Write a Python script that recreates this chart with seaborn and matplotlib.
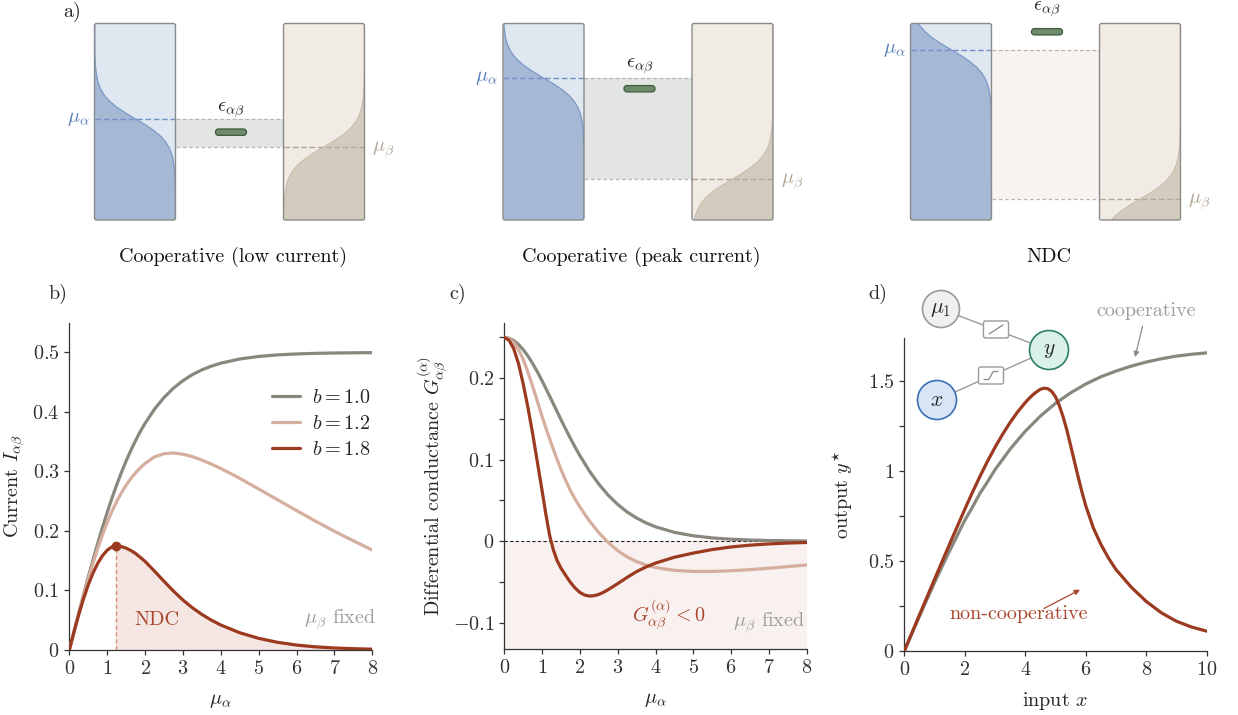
import numpy as np
import matplotlib
matplotlib.use('Agg')
import matplotlib.pyplot as plt
import seaborn as sns
from matplotlib.patches import FancyBboxPatch, Circle, Rectangle
from matplotlib.ticker import FuncFormatter

# ---------------- data ----------------
# panel b: current I_ab vs mu_alpha
mu_b10 = [0, 0.125, 0.25, 0.375, 0.5, 0.625, 0.75, 0.875, 1, 1.125, 1.25, 1.375, 1.5, 1.625,
          1.75, 1.875, 2, 2.25, 2.5, 2.75, 3, 3.25, 3.5, 3.75, 4, 4.5, 5, 5.5, 6, 6.5, 7, 7.5, 8]
I_b10 = [0, 0.0312, 0.0622, 0.0927, 0.1225, 0.1513, 0.1792, 0.2057, 0.2311, 0.2550, 0.2773,
         0.2982, 0.3176, 0.3355, 0.3520, 0.3672, 0.3808, 0.4048, 0.4242, 0.4400, 0.4526,
         0.4628, 0.4707, 0.4770, 0.4820, 0.4890, 0.4933, 0.4959, 0.4975, 0.4985, 0.4991,
         0.4994, 0.4997]
mu_b12 = [0, 0.125, 0.25, 0.375, 0.5, 0.625, 0.75, 0.875, 1, 1.125, 1.25, 1.375, 1.5, 1.625,
          1.75, 1.875, 2, 2.25, 2.5, 2.75, 3, 3.25, 3.5, 3.75, 4, 4.5, 5, 5.5, 6, 6.5, 7, 7.5, 8]
I_b12 = [0, 0.0311, 0.0614, 0.0908, 0.1190, 0.1457, 0.1706, 0.1935, 0.2142, 0.2328, 0.2494,
         0.2640, 0.2768, 0.2880, 0.2978, 0.3062, 0.3134, 0.3246, 0.3298, 0.3310, 0.3290,
         0.3250, 0.3192, 0.3124, 0.3050, 0.2885, 0.2705, 0.2525, 0.2343, 0.2165, 0.1995,
         0.1835, 0.1680]
mu_b18 = [0, 0.125, 0.25, 0.375, 0.5, 0.625, 0.75, 0.875, 1, 1.125, 1.22, 1.375, 1.5, 1.625,
          1.75, 2, 2.25, 2.5, 2.75, 3, 3.25, 3.5, 3.75, 4, 4.5, 5, 5.5, 6, 6.5, 7, 7.5, 8]
I_b18 = [0, 0.0307, 0.0596, 0.0860, 0.1093, 0.1292, 0.1456, 0.1584, 0.1677, 0.1733, 0.1750,
         0.1738, 0.1712, 0.1673, 0.1622, 0.1490, 0.1325, 0.1155, 0.0990, 0.0840, 0.0710,
         0.0598, 0.0502, 0.0420, 0.0290, 0.0196, 0.0129, 0.0083, 0.0053, 0.0034, 0.0022, 0.0014]
ndc_peak_mu = 1.22
ndc_peak_I = 0.175

# panel c: differential conductance vs mu_alpha
mu_c10 = [0, 0.125, 0.25, 0.375, 0.5, 0.625, 0.75, 0.875, 1, 1.125, 1.25, 1.375, 1.5, 1.625,
          1.75, 1.875, 2, 2.25, 2.5, 2.75, 3, 3.25, 3.5, 3.75, 4, 4.5, 5, 5.5, 6, 6.5, 7, 7.5, 8]
G_b10 = [0.25, 0.2490, 0.2461, 0.2414, 0.2350, 0.2271, 0.2179, 0.2077, 0.1966, 0.1850, 0.1731,
         0.1611, 0.1491, 0.1374, 0.1261, 0.1152, 0.1050, 0.0862, 0.0701, 0.0564, 0.0452,
         0.0358, 0.0285, 0.0225, 0.0177, 0.0109, 0.0067, 0.0041, 0.0025, 0.0015, 0.0009,
         0.0006, 0.0003]
mu_c12 = [0, 0.125, 0.25, 0.375, 0.5, 0.625, 0.75, 0.875, 1, 1.125, 1.25, 1.375, 1.5, 1.625,
          1.75, 1.875, 2, 2.25, 2.5, 2.75, 3, 3.25, 3.5, 3.75, 4, 4.5, 5, 5.5, 6, 6.5, 7, 7.5, 8]
G_b12 = [0.25, 0.2485, 0.2435, 0.2350, 0.2230, 0.2075, 0.1900, 0.1715, 0.1530, 0.1355, 0.1190,
         0.1030, 0.0880, 0.0745, 0.0620, 0.0515, 0.0420, 0.0250, 0.0105, -0.0015, -0.0115,
         -0.0192, -0.0250, -0.0292, -0.0322, -0.0357, -0.0370, -0.0370, -0.0362, -0.0348,
         -0.0331, -0.0311, -0.0290]
mu_c18 = [0, 0.125, 0.25, 0.375, 0.5, 0.625, 0.75, 0.875, 1, 1.1, 1.2, 1.3, 1.4, 1.5, 1.625,
          1.75, 1.875, 2, 2.125, 2.25, 2.375, 2.5, 2.625, 2.75, 3, 3.25, 3.5, 3.75, 4, 4.5, 5,
          5.5, 6, 6.5, 7, 7.5, 8]
G_b18 = [0.25, 0.2465, 0.2360, 0.2180, 0.1930, 0.1640, 0.1320, 0.0970, 0.0620, 0.0330, 0.0070,
         -0.0110, -0.0240, -0.0330, -0.0420, -0.0505, -0.0575, -0.0628, -0.0660, -0.0672,
         -0.0668, -0.0652, -0.0626, -0.0593, -0.0520, -0.0443, -0.0372, -0.0315, -0.0268,
         -0.0196, -0.0145, -0.0102, -0.0070, -0.0048, -0.0033, -0.0022, -0.0015]

# panel d: output y* vs input x
x_d = [0, 0.25, 0.5, 0.75, 1, 1.25, 1.5, 1.75, 2, 2.25, 2.5, 2.75, 3, 3.25, 3.5, 3.75, 4,
       4.5, 5, 5.5, 6, 6.5, 7, 7.5, 8, 8.5, 9, 9.5, 10]
y_coop = [0, 0.0963, 0.192, 0.2861, 0.379, 0.4689, 0.556, 0.6404, 0.725, 0.797, 0.874, 0.938,
          1.006, 1.0626, 1.120, 1.1696, 1.219, 1.303, 1.374, 1.432, 1.481, 1.521, 1.553,
          1.580, 1.603, 1.621, 1.636, 1.646, 1.654]
x_dn = [0, 0.5, 1, 1.5, 2, 2.25, 2.5, 2.75, 3, 3.25, 3.5, 3.75, 4, 4.125, 4.25, 4.375, 4.5,
        4.625, 4.75, 4.875, 5, 5.125, 5.25, 5.375, 5.5, 5.625, 5.75, 5.875, 6, 6.25, 6.5,
        6.75, 7, 7.5, 8, 8.5, 9, 9.5, 10]
y_noncoop = [0, 0.200, 0.398, 0.594, 0.786, 0.879, 0.968, 1.052, 1.130, 1.202, 1.268, 1.327,
             1.378, 1.401, 1.421, 1.438, 1.452, 1.458, 1.455, 1.440, 1.410, 1.362, 1.300,
             1.226, 1.140, 1.052, 0.965, 0.882, 0.806, 0.683, 0.592, 0.516, 0.452, 0.355,
             0.275, 0.212, 0.165, 0.133, 0.110]

# panel a: schematic energy levels (fraction of reservoir height)
scen_titles = ['Cooperative (low current)', 'Cooperative (peak current)', 'NDC']
scen_mu_a = [0.516, 0.723, 0.867]
scen_mu_b = [0.372, 0.208, 0.106]
scen_eps = [0.447, 0.668, 0.958]
scen_band = ['#e3e5e3', '#e3e5e3', '#f8f3f0']
# Fermi occupation profile, offsets in units of kT
fermi_t = [-6, -5.5, -5, -4.5, -4, -3.5, -3, -2.5, -2, -1.5, -1, -0.5, 0,
           0.5, 1, 1.5, 2, 2.5, 3, 3.5, 4, 4.5, 5, 5.5, 6]
fermi_f = [0.9975, 0.9959, 0.9933, 0.989, 0.982, 0.9707, 0.9526, 0.9241, 0.8808, 0.8176,
           0.7311, 0.6225, 0.5, 0.3775, 0.2689, 0.1824, 0.1192, 0.0759, 0.0474, 0.0293,
           0.018, 0.011, 0.0067, 0.0041, 0.0025]

# ---------------- style ----------------
FS = 14.5
sns.set_theme(style='ticks')
plt.rcParams.update({
    'font.family': 'serif',
    'font.serif': ['cmr10'],
    'mathtext.fontset': 'cm',
    'axes.formatter.use_mathtext': True,
    'axes.unicode_minus': True,
    'font.size': FS,
    'axes.labelsize': FS,
    'axes.edgecolor': '#333333',
    'axes.linewidth': 0.9,
    'xtick.color': '#333333',
    'ytick.color': '#333333',
    'xtick.major.size': 3.5,
    'ytick.major.size': 3.5,
    'ytick.minor.size': 3.5,
    'xtick.major.width': 0.9,
    'ytick.major.width': 0.9,
    'ytick.minor.width': 0.9,
})

C_GRAY = '#88887f'
C_PINK = '#d6ae9f'
C_RED = '#9c3a20'
C_TXT_RED = '#a9452c'
C_TXT_GRAY = '#9d9d9d'
LW = 2.3

W_PX, H_PX = 1238, 715
fig = plt.figure(figsize=(W_PX / 100, H_PX / 100), dpi=100)


def px_rect(left, top, right, bottom):
    return [left / W_PX, 1 - bottom / H_PX, (right - left) / W_PX, (bottom - top) / H_PX]


def num_fmt(v, pos):
    if abs(v) < 1e-9:
        return '$0$'
    return '$%g$' % round(v, 4)


ax_b = fig.add_axes(px_rect(69.3, 322.7, 372.3, 650))
ax_c = fig.add_axes(px_rect(504.3, 322.7, 806.7, 649.3))
ax_d = fig.add_axes(px_rect(904.3, 337.7, 1206.7, 651))

# ---------------- panel b ----------------
mu18 = np.array(mu_b18)
I18 = np.array(I_b18)
m = mu18 >= ndc_peak_mu
ax_b.fill_between(mu18[m], 0, I18[m], color='#f4e6e3', lw=0, zorder=1)
ax_b.plot([ndc_peak_mu, ndc_peak_mu], [0, ndc_peak_I], ls=(0, (3, 2)), color='#d98b78', lw=1, zorder=2)
sns.lineplot(x=mu_b10, y=I_b10, color=C_GRAY, lw=LW, label='$b = 1.0$', ax=ax_b, zorder=3)
sns.lineplot(x=mu_b12, y=I_b12, color=C_PINK, lw=LW, label='$b = 1.2$', ax=ax_b, zorder=3)
sns.lineplot(x=mu_b18, y=I_b18, color=C_RED, lw=LW, label='$b = 1.8$', ax=ax_b, zorder=4)
ax_b.plot([ndc_peak_mu], [ndc_peak_I], 'o', color=C_RED, ms=6, zorder=5)
ax_b.set_xlim(0, 8)
ax_b.set_ylim(0, 0.55)
ax_b.set_xticks(range(0, 9))
ax_b.set_yticks([0, 0.1, 0.2, 0.3, 0.4, 0.5])
ax_b.text(2.3, 0.05, 'NDC', color=C_TXT_RED, ha='center', va='center', fontsize=FS)
ax_b.text(8.1, 0.05, r'$\mu_\beta$ fixed', color=C_TXT_GRAY, ha='right', va='center', fontsize=FS)
ax_b.set_xlabel(r'$\mu_\alpha$', labelpad=10, fontsize=FS)
ax_b.set_ylabel(r'Current $I_{\alpha\beta}$', labelpad=4, fontsize=FS)
ax_b.legend(frameon=False, loc='upper right', bbox_to_anchor=(1.04, 0.84), fontsize=FS,
            handlelength=1.4, handletextpad=0.6, labelspacing=0.38, borderpad=0.2)

# ---------------- panel c ----------------
c_ylim = (-0.1325, 0.268)
ax_c.axhspan(c_ylim[0], 0, color='#f8f1ef', lw=0, zorder=0)
ax_c.axhline(0, color='#222222', ls=(0, (3, 2)), lw=0.8, zorder=1)
sns.lineplot(x=mu_c10, y=G_b10, color=C_GRAY, lw=LW, ax=ax_c, zorder=3)
sns.lineplot(x=mu_c12, y=G_b12, color=C_PINK, lw=LW, ax=ax_c, zorder=3)
sns.lineplot(x=mu_c18, y=G_b18, color=C_RED, lw=LW, ax=ax_c, zorder=4)
ax_c.set_xlim(0, 8)
ax_c.set_ylim(*c_ylim)
ax_c.set_xticks(range(0, 9))
ax_c.set_yticks([-0.1, 0, 0.1, 0.2])
ax_c.set_yticks([-0.05, 0.05, 0.15, 0.25], minor=True)
ax_c.text(4.35, -0.09, r'$G^{(\alpha)}_{\alpha\beta} < 0$', color=C_TXT_RED, ha='center',
          va='center', fontsize=FS)
ax_c.text(7.95, -0.1, r'$\mu_\beta$ fixed', color=C_TXT_GRAY, ha='right', va='center', fontsize=FS)
ax_c.set_xlabel(r'$\mu_\alpha$', labelpad=10, fontsize=FS)
ax_c.set_ylabel(r'Differential conductance $G^{(\alpha)}_{\alpha\beta}$', labelpad=2, fontsize=FS)

# ---------------- panel d ----------------
sns.lineplot(x=x_d, y=y_coop, color=C_GRAY, lw=LW, ax=ax_d, zorder=3)
sns.lineplot(x=x_dn, y=y_noncoop, color=C_RED, lw=LW, ax=ax_d, zorder=4)
ax_d.set_xlim(0, 10)
ax_d.set_ylim(0, 1.738)
ax_d.set_xticks([0, 2, 4, 6, 8, 10])
ax_d.set_yticks([0, 0.5, 1, 1.5])
ax_d.set_yticks([0.25, 0.75, 1.25], minor=True)
ax_d.set_xlabel(r'input $x$', labelpad=8, fontsize=FS)
ax_d.set_ylabel(r'output $y^{\star}$', labelpad=9, fontsize=FS)
ax_d.annotate('cooperative', xy=(7.63, 1.63), xytext=(8.0, 1.885), color=C_TXT_GRAY,
              ha='center', va='center', fontsize=FS, annotation_clip=False,
              arrowprops=dict(arrowstyle='-|>', color='#8a8a8a', lw=0.9, mutation_scale=8,
                              shrinkA=2, shrinkB=0))
ax_d.text(3.79, 0.206, 'non-cooperative', color=C_TXT_RED, ha='center', va='center', fontsize=FS)
ax_d.annotate('', xy=(5.81, 0.34), xytext=(4.62, 0.236),
              arrowprops=dict(arrowstyle='-|>', color=C_TXT_RED, lw=0.9, mutation_scale=8,
                              shrinkA=0, shrinkB=0))

for ax in (ax_b, ax_c, ax_d):
    sns.despine(ax=ax)
    ax.yaxis.set_major_formatter(FuncFormatter(num_fmt))
    ax.xaxis.set_major_formatter(FuncFormatter(num_fmt))
    ax.tick_params(which='both', labelsize=FS, direction='out')
    ax.set_facecolor('none')

# ---------------- overlay in pixel coordinates (panel a + diagram) ----------------
ov = fig.add_axes([0, 0, 1, 1], zorder=10)
ov.set_xlim(0, W_PX)
ov.set_ylim(H_PX, 0)
ov.axis('off')

BOX_W, GAP = 81, 108
BOX_TOP, BOX_BOT = 23.5, 220.0
BOX_H = BOX_BOT - BOX_TOP
KT = 0.06
box_left = [94.5, 503.0, 910.5]

E_off = np.array([-1.0] + [t * KT for t in fermi_t] + [2.0])
F_occ = np.array([1.0] + fermi_f + [0.0])


def level_y(frac):
    return BOX_BOT - frac * BOX_H


def reservoir(x0, mu, side, light, dark, edge):
    box = FancyBboxPatch((x0, BOX_TOP), BOX_W, BOX_H, boxstyle='round,pad=0,rounding_size=2',
                         fc=light, ec='none', zorder=2)
    ov.add_patch(box)
    y = level_y(mu + E_off)
    if side == 'left':
        x_in = np.full_like(y, x0)
        x_out = x0 + F_occ * BOX_W
    else:
        x_in = np.full_like(y, x0 + BOX_W)
        x_out = x0 + BOX_W - F_occ * BOX_W
    poly = ov.fill_betweenx(y, x_in, x_out, color=dark, lw=0, zorder=3)
    poly.set_clip_path(box)
    ln, = ov.plot(x_out, y, color=edge, lw=0.9, zorder=4)
    ln.set_clip_path(box)
    ov.add_patch(FancyBboxPatch((x0, BOX_TOP), BOX_W, BOX_H, boxstyle='round,pad=0,rounding_size=2',
                                fc='none', ec='#8a8a8a', lw=1.0, zorder=6))


for i in range(3):
    xl = box_left[i]
    xr = xl + BOX_W + GAP
    ya = level_y(scen_mu_a[i])
    yb = level_y(scen_mu_b[i])
    ye = level_y(scen_eps[i])
    xc = xl + BOX_W + GAP / 2 + 1.5
    # band between chemical potentials
    ov.add_patch(Rectangle((xl + BOX_W, ya), GAP, yb - ya, fc=scen_band[i], ec='none', zorder=1))
    ov.plot([xl + BOX_W, xr], [ya, ya], ls=(0, (3, 2)), color='#b5b5b5', lw=0.9, zorder=2)
    ov.plot([xl + BOX_W, xr], [yb, yb], ls=(0, (3, 2)), color='#b5b5b5', lw=0.9, zorder=2)
    reservoir(xl, scen_mu_a[i], 'left', '#dfe7f0', '#a6b9d4', '#7c99c6')
    reservoir(xr, scen_mu_b[i], 'right', '#f0ece5', '#d4cbbf', '#c6baa9')
    ov.plot([xl, xl + BOX_W], [ya, ya], ls=(0, (4, 2)), color='#6f8fc6', lw=1.0, zorder=5)
    ov.plot([xr, xr + BOX_W], [yb, yb], ls=(0, (4, 2)), color='#b3a695', lw=1.0, zorder=5)
    ov.text(xl - 5, ya, r'$\mu_\alpha$', color='#5b7fbb', ha='right', va='center', fontsize=FS)
    ov.text(xr + BOX_W + 8, yb + 3, r'$\mu_\beta$', color='#b3a695', ha='left', va='center', fontsize=FS)
    # dot level
    ov.add_patch(FancyBboxPatch((xc - 15.5, ye - 3.2), 31, 6.4, boxstyle='round,pad=0,rounding_size=3',
                                fc='#6f8b6c', ec='#3f5b3e', lw=0.9, zorder=6))
    ov.text(xc, ye - 22, r'$\epsilon_{\alpha\beta}$', ha='center', va='center', fontsize=FS,
            color='#222222')
    ov.text(xc + 2, 257, scen_titles[i], ha='center', va='center', fontsize=FS, color='#111111')

# network diagram of panel d
nodes = {'mu': (941, 309, 18.5, '#f0f0ee', '#9a9a9a', r'$\mu_1$'),
         'y': (1049, 350, 19.5, '#d9f1e7', '#2e8064', r'$y$'),
         'x': (937, 400, 19.5, '#d7e5f6', '#3b6fb5', r'$x$')}
for a, b in (('mu', 'y'), ('x', 'y')):
    ov.plot([nodes[a][0], nodes[b][0]], [nodes[a][1], nodes[b][1]], color='#9a9a9a', lw=1.0, zorder=2)
for key, (cx, cy, r, fc, ec, lab) in nodes.items():
    ov.add_patch(Circle((cx, cy), r, fc=fc, ec=ec, lw=1.2, zorder=4))
    ov.text(cx, cy, lab, ha='center', va='center', fontsize=15.5, zorder=5)
for (bx, by, kind) in ((996, 329.5, 'lin'), (991, 375.5, 'sig')):
    ov.add_patch(FancyBboxPatch((bx - 12.5, by - 8.5), 25, 17, boxstyle='round,pad=0,rounding_size=2',
                                fc='white', ec='#9a9a9a', lw=1.0, zorder=4))
    if kind == 'lin':
        ov.plot([bx - 7, bx + 7], [by + 4.5, by - 4.5], color='#888888', lw=0.9, zorder=5)
    else:
        ov.plot([bx - 7, bx - 2.5, bx - 1, bx + 1, bx + 2.5, bx + 7],
                [by + 4, by + 4, by + 2, by - 2, by - 4, by - 4], color='#888888', lw=0.9, zorder=5)

# panel letters
for lab, (px, py) in (('a)', (63, 12)), ('b)', (48, 294)), ('c)', (449, 294)), ('d)', (868, 294))):
    fig.text(px / W_PX, 1 - py / H_PX, lab, ha='left', va='center', fontsize=FS)

fig.savefig('out.png', dpi=100)
